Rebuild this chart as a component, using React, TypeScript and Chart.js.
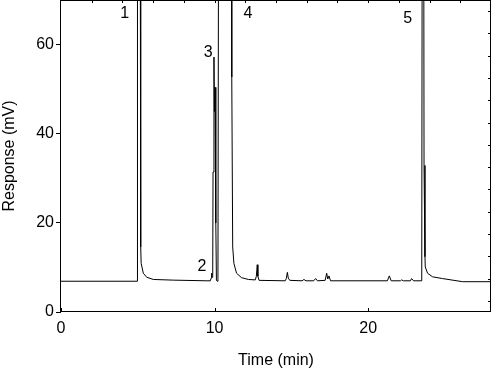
import React, { useEffect, useRef } from "react";
import { Chart, registerables } from "chart.js";

Chart.register(...registerables);

// Chromatogram trace (time in min, response in mV). Peaks above 70 mV are off-scale.
const timeMin = [
  0, 4.96, 4.98, 5.16, 5.19, 5.22, 5.36, 5.58, 6.01, 7.31,
  9.5, 9.72, 9.78, 9.81, 9.84, 9.88, 9.9, 9.96, 9.99, 10.03,
  10.08, 10.12, 10.17, 10.22, 10.26, 11.1, 11.12, 11.18, 11.26, 11.43,
  11.76, 12.2, 12.65, 12.72, 12.78, 12.82, 12.9, 14.6, 14.67, 14.74,
  14.8, 14.9, 15.7, 15.82, 15.95, 16.45, 16.58, 16.7, 17.2, 17.3,
  17.37, 17.45, 17.55, 21.25, 21.38, 21.5, 22.1, 22.18, 22.3, 22.75,
  22.83, 22.95, 23.49, 23.52, 23.62, 23.64, 23.7, 23.72, 23.87, 24.19,
  24.84, 26.15, 28,
];
const responseMv = [
  6.9, 6.9, 90, 90, 14.6, 10.9, 8.7, 7.8, 7.3, 7.15,
  7.0, 7.0, 7.6, 8.7, 7.8, 8.2, 31.4, 57.2, 45, 50.4,
  20, 7.2, 6.9, 7.5, 90, 90, 52.7, 14.6, 10.9, 8.7,
  7.7, 7.3, 7.2, 8.0, 10.6, 8.0, 7.1, 7.0, 7.5, 8.9,
  7.6, 7.1, 7.0, 7.3, 7.0, 7.0, 7.5, 7.0, 7.1, 8.7,
  7.4, 8.1, 7.0, 7.0, 8.1, 7.0, 7.0, 7.2, 7.0, 7.0,
  7.5, 7.0, 7.0, 90, 90, 32.9, 12.4, 10.1, 8.7, 7.9,
  7.5, 6.8, 6.8,
];

const xTicks = [0, 10, 20];
const yTicks = [0, 20, 40, 60];
const topMinorTicks = [2, 4, 6, 8, 10, 12, 14, 16, 18, 20, 22, 24, 26];
const rightMinorTicks = [2.5, 7.5, 12.5, 17.5, 22.5, 27.5, 32.5, 37.5, 42.5, 47.5, 52.5, 57.5, 62.5, 67.5];

const peakLabels = ["1", "2", "3", "4", "5"];
const peakLabelTime = [4.15, 9.18, 9.59, 12.18, 22.58];
const peakLabelResp = [67.05, 10.23, 58.2, 67.05, 65.75];

const FONT = '"Liberation Sans", Arial, sans-serif';

const framePlugin = {
  id: "frame",
  afterDraw(chart: any) {
    const { ctx, chartArea: a, scales } = chart;
    const sx = scales.x;
    const sy = scales.y;
    ctx.save();
    ctx.strokeStyle = "#000";
    ctx.lineWidth = 1;
    ctx.strokeRect(a.left - 0.5, a.top + 0.5, a.right - a.left, a.bottom - a.top - 1);
    ctx.beginPath();
    xTicks.forEach((v) => {
      const px = Math.round(sx.getPixelForValue(v)) + 0.5;
      ctx.moveTo(px, a.bottom - 1);
      ctx.lineTo(px, a.bottom - 4);
    });
    topMinorTicks.forEach((v) => {
      const px = Math.round(sx.getPixelForValue(v)) + 0.5;
      ctx.moveTo(px, a.top + 1);
      ctx.lineTo(px, a.top + 3);
    });
    rightMinorTicks.forEach((v) => {
      const py = Math.round(sy.getPixelForValue(v)) + 0.5;
      ctx.moveTo(a.right - 1, py);
      ctx.lineTo(a.right - 3, py);
    });
    ctx.stroke();
    ctx.fillStyle = "#000";
    ctx.font = `16px ${FONT}`;
    ctx.textAlign = "center";
    ctx.textBaseline = "middle";
    peakLabels.forEach((t, i) => {
      ctx.fillText(t, sx.getPixelForValue(peakLabelTime[i]), sy.getPixelForValue(peakLabelResp[i]));
    });
    ctx.restore();
  },
};

export default function App() {
  const ref = useRef<HTMLCanvasElement | null>(null);

  useEffect(() => {
    if (!ref.current) return;
    const points = timeMin.map((t, i) => ({ x: t, y: responseMv[i] }));
    const chart = new Chart(ref.current, {
      type: "line",
      data: {
        datasets: [
          {
            data: points,
            borderColor: "#000",
            borderWidth: 1,
            pointRadius: 0,
            tension: 0,
            fill: false,
          },
        ],
      },
      options: {
        animation: false,
        responsive: false,
        maintainAspectRatio: false,
        layout: { padding: { left: 0, right: 1, top: 0, bottom: 0 }, autoPadding: false },
        plugins: { legend: { display: false }, tooltip: { enabled: false } },
        scales: {
          x: {
            type: "linear",
            min: 0,
            max: 28,
            afterBuildTicks: (s: any) => {
              s.ticks = xTicks.map((v) => ({ value: v }));
            },
            afterFit: (s: any) => {
              s.height = 56;
              s.paddingLeft = 0;
              s.paddingRight = 0;
            },
            grid: { display: false, drawTicks: false },
            border: { display: false },
            ticks: {
              color: "#000",
              font: { family: FONT, size: 16 },
              padding: 7,
              maxRotation: 0,
              autoSkip: false,
            },
            title: {
              display: true,
              text: "Time (min)",
              color: "#000",
              font: { family: FONT, size: 16 },
              padding: { top: 0, bottom: -2 },
            },
          },
          y: {
            type: "linear",
            min: 0,
            max: 70,
            afterBuildTicks: (s: any) => {
              s.ticks = yTicks.map((v) => ({ value: v }));
            },
            afterFit: (s: any) => {
              s.width = 61;
              s.paddingTop = 0;
              s.paddingBottom = 0;
            },
            grid: {
              display: true,
              drawOnChartArea: false,
              drawTicks: true,
              tickLength: 5,
              color: "#000",
              lineWidth: 1,
            },
            border: { display: false },
            ticks: {
              color: "#000",
              font: { family: FONT, size: 16 },
              padding: 2,
            },
            title: {
              display: true,
              text: "Response (mV)",
              color: "#000",
              font: { family: FONT, size: 16 },
              padding: { top: 0, bottom: 0 },
            },
          },
        },
      },
      plugins: [framePlugin],
    });
    return () => chart.destroy();
  }, []);

  return (
    <div style={{ position: "fixed", left: 0, top: 0, width: 492, height: 368, background: "#fff" }}>
      <canvas ref={ref} width={492} height={368} style={{ display: "block" }} />
    </div>
  );
}
